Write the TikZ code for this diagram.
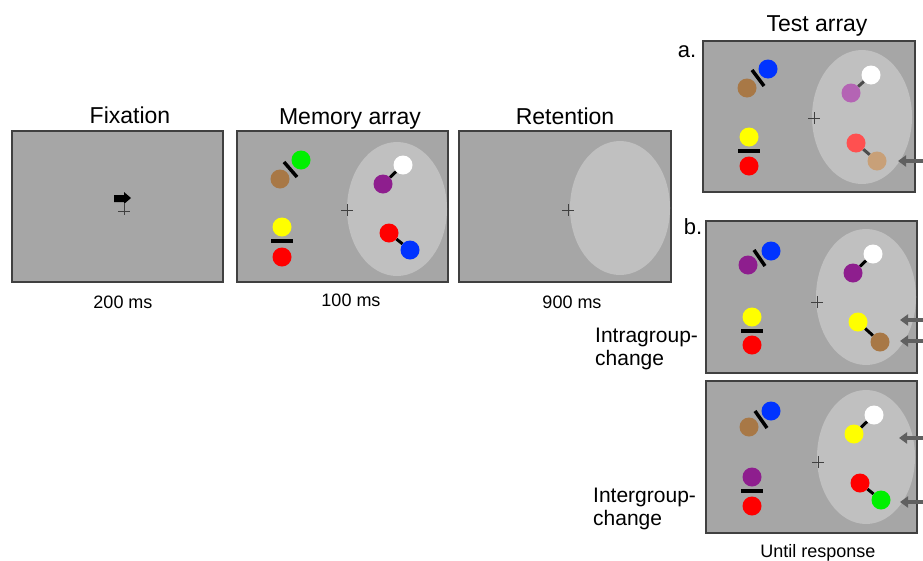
\documentclass[tikz,border=0pt]{standalone}
\usepackage{fontspec}
\setmainfont{Liberation Sans}
\usetikzlibrary{arrows.meta}

\definecolor{scrgray}{RGB}{166,166,166}
\definecolor{zonegray}{RGB}{192,192,192}
\definecolor{arrgray}{RGB}{96,96,96}
\definecolor{cgreen}{RGB}{0,240,0}
\definecolor{cbrown}{RGB}{168,120,70}
\definecolor{cyellow}{RGB}{255,255,0}
\definecolor{cred}{RGB}{255,0,0}
\definecolor{cpurple}{RGB}{142,30,142}
\definecolor{cblue}{RGB}{0,51,255}
\definecolor{clpurple}{RGB}{180,100,180}
\definecolor{clred}{RGB}{255,80,80}
\definecolor{ctan}{RGB}{200,160,120}

\begin{document}
\begin{tikzpicture}[x=1pt,y=-1pt, >={Triangle[length=8pt,width=11pt]}]
				\tikzstyle{screen}=[draw=black!75, line width=1.2pt, fill=scrgray]
				\tikzstyle{zone}=[fill=zonegray]
				\tikzstyle{dot}=[circle, inner sep=0pt, minimum size=19pt]
				\tikzstyle{bar}=[line width=3.5pt]
				\tikzstyle{link}=[line width=3pt]
				\tikzstyle{fixcross}=[draw=black!75, line width=1pt]
				\tikzstyle{cue}=[arrgray, line width=4pt, ->]
				\tikzstyle{title}=[anchor=base, font=\fontsize{23}{27}\selectfont]
				\tikzstyle{time}=[anchor=base, font=\fontsize{18}{22}\selectfont]
				\tikzstyle{cond}=[anchor=base west, inner sep=0pt, font=\fontsize{21}{25}\selectfont]
				\useasboundingbox (0,0) rectangle (923,560);
				%Fixation
				\draw[screen] (12,131) rectangle (223,282);
				\node[title] (t-fix) at (130,123) {Fixation};
				\node[time] (d-fix) at (123,308) {200 ms};
				\fill (114,195) -- (124,195) -- (124,192) -- (131,198) -- (124,204) -- (124,202) -- (114,202) -- cycle;
				\draw[fixcross] (124,211) +(-6,0) -- +(6,0) +(0,-8) -- +(0,4);
				%Memory array
				\draw[screen] (237,131) rectangle (448,282);
				\fill[zone] (397,209) ellipse [x radius=50pt, y radius=67pt];
				\node[title] (t-mem) at (350,124) {Memory array};
				\node[time] (d-mem) at (351,306) {100 ms};
				\draw[fixcross] (347,210) +(-6,0) -- +(6,0) +(0,-6) -- +(0,6);
				\node[dot, fill=cgreen] (m-green) at (301,160) {};
				\node[dot, fill=cbrown] (m-brown) at (280,179) {};
				\draw[bar] (284,162) -- (297,177);
				\node[dot, fill=cyellow] (m-yellow) at (282,227) {};
				\node[dot, fill=cred] (m-red) at (282,257) {};
				\draw[bar] (271,241) -- (293,241);
				\node[dot, fill=white] (m-white) at (403,165) {};
				\node[dot, fill=cpurple] (m-purple) at (383,184) {};
				\draw[link] (m-white) -- (m-purple);
				\node[dot, fill=cred] (m-red2) at (389,233) {};
				\node[dot, fill=cblue] (m-blue) at (410,250) {};
				\draw[link] (m-red2) -- (m-blue);
				%Retention
				\draw[screen] (459,131) rectangle (671,282);
				\fill[zone] (620,208) ellipse [x radius=50pt, y radius=67pt];
				\node[title] (t-ret) at (565,124) {Retention};
				\node[time] (d-ret) at (572,308) {900 ms};
				\draw[fixcross] (568,210) +(-6,0) -- +(6,0) +(0,-6) -- +(0,6);
				%Test array a.
				\draw[screen] (703,41) rectangle (915,192);
				\fill[zone] (862,117) ellipse [x radius=50pt, y radius=67pt];
				\node[title] (t-test) at (817,31) {Test array};
				\node[title, font=\fontsize{22}{26}\selectfont] (l-a) at (687,57) {a.};
				\draw[fixcross] (814,118) +(-6,0) -- +(6,0) +(0,-6) -- +(0,6);
				\node[dot, fill=cblue] (a-blue) at (768,69) {};
				\node[dot, fill=cbrown] (a-brown) at (747,88) {};
				\draw[bar] (752,70) -- (764,86);
				\node[dot, fill=cyellow] (a-yellow) at (749,137) {};
				\node[dot, fill=cred] (a-red) at (749,166) {};
				\draw[bar] (738,151) -- (760,151);
				\node[dot, fill=white] (a-white) at (871,75) {};
				\node[dot, fill=clpurple] (a-purple) at (851,93) {};
				\draw[link, black!70] (a-white) -- (a-purple);
				\node[dot, fill=clred] (a-red2) at (856,143) {};
				\node[dot, fill=ctan] (a-tan) at (877,161) {};
				\draw[link, black!70] (a-red2) -- (a-tan);
				\coordinate (a-from) at (923,161);
				\coordinate (a-to) at (898,161);
				\draw[cue] (a-from) -- (a-to);
				%Test array b. (intragroup change)
				\draw[screen] (706,221) rectangle (917,373);
				\fill[zone] (866,297) ellipse [x radius=50pt, y radius=68pt];
				\node[title, font=\fontsize{22}{26}\selectfont] (l-b) at (693,234) {b.};
				\node[cond] (c-intra1) at (595,342) {Intragroup-};
				\node[cond] (c-intra2) at (595,365) {change};
				\draw[fixcross] (817,302) +(-6,0) -- +(6,0) +(0,-6) -- +(0,6);
				\node[dot, fill=cblue] (b-blue) at (771,251) {};
				\node[dot, fill=cpurple] (b-purple) at (748,265) {};
				\draw[bar] (754,250) -- (765,266);
				\node[dot, fill=cyellow] (b-yellow) at (752,317) {};
				\node[dot, fill=cred] (b-red) at (752,345) {};
				\draw[bar] (741,331) -- (763,331);
				\node[dot, fill=white] (b-white) at (873,254) {};
				\node[dot, fill=cpurple] (b-purple2) at (853,273) {};
				\draw[link] (b-white) -- (b-purple2);
				\node[dot, fill=cyellow] (b-yellow2) at (858,322) {};
				\node[dot, fill=cbrown] (b-brown) at (880,342) {};
				\draw[link] (b-yellow2) -- (b-brown);
				\coordinate (b-from1) at (923,320);
				\coordinate (b-to1) at (900,320);
				\coordinate (b-from2) at (923,341);
				\coordinate (b-to2) at (900,341);
				\draw[cue] (b-from1) -- (b-to1);
				\draw[cue] (b-from2) -- (b-to2);
				%Test array c. (intergroup change)
				\draw[screen] (706,381) rectangle (917,533);
				\fill[zone] (866,457) ellipse [x radius=49pt, y radius=67pt];
				\node[cond] (c-inter1) at (593,502) {Intergroup-};
				\node[cond] (c-inter2) at (593,525) {change};
				\node[time] (d-test) at (818,557) {Until response};
				\draw[fixcross] (818,462) +(-6,0) -- +(6,0) +(0,-6) -- +(0,6);
				\node[dot, fill=cblue] (c-blue) at (771,411) {};
				\node[dot, fill=cbrown] (c-brown) at (749,427) {};
				\draw[bar] (755,411) -- (767,428);
				\node[dot, fill=cpurple] (c-purple) at (752,477) {};
				\node[dot, fill=cred] (c-red) at (752,506) {};
				\draw[bar] (741,491) -- (763,491);
				\node[dot, fill=white] (c-white) at (874,415) {};
				\node[dot, fill=cyellow] (c-yellow) at (854,434) {};
				\draw[link] (c-white) -- (c-yellow);
				\node[dot, fill=cred] (c-red2) at (860,483) {};
				\node[dot, fill=cgreen] (c-green) at (881,500) {};
				\draw[link] (c-red2) -- (c-green);
				\coordinate (c-from1) at (923,438);
				\coordinate (c-to1) at (899,438);
				\coordinate (c-from2) at (923,502);
				\coordinate (c-to2) at (900,502);
				\draw[cue] (c-from1) -- (c-to1);
				\draw[cue] (c-from2) -- (c-to2);
\end{tikzpicture}
\end{document}
